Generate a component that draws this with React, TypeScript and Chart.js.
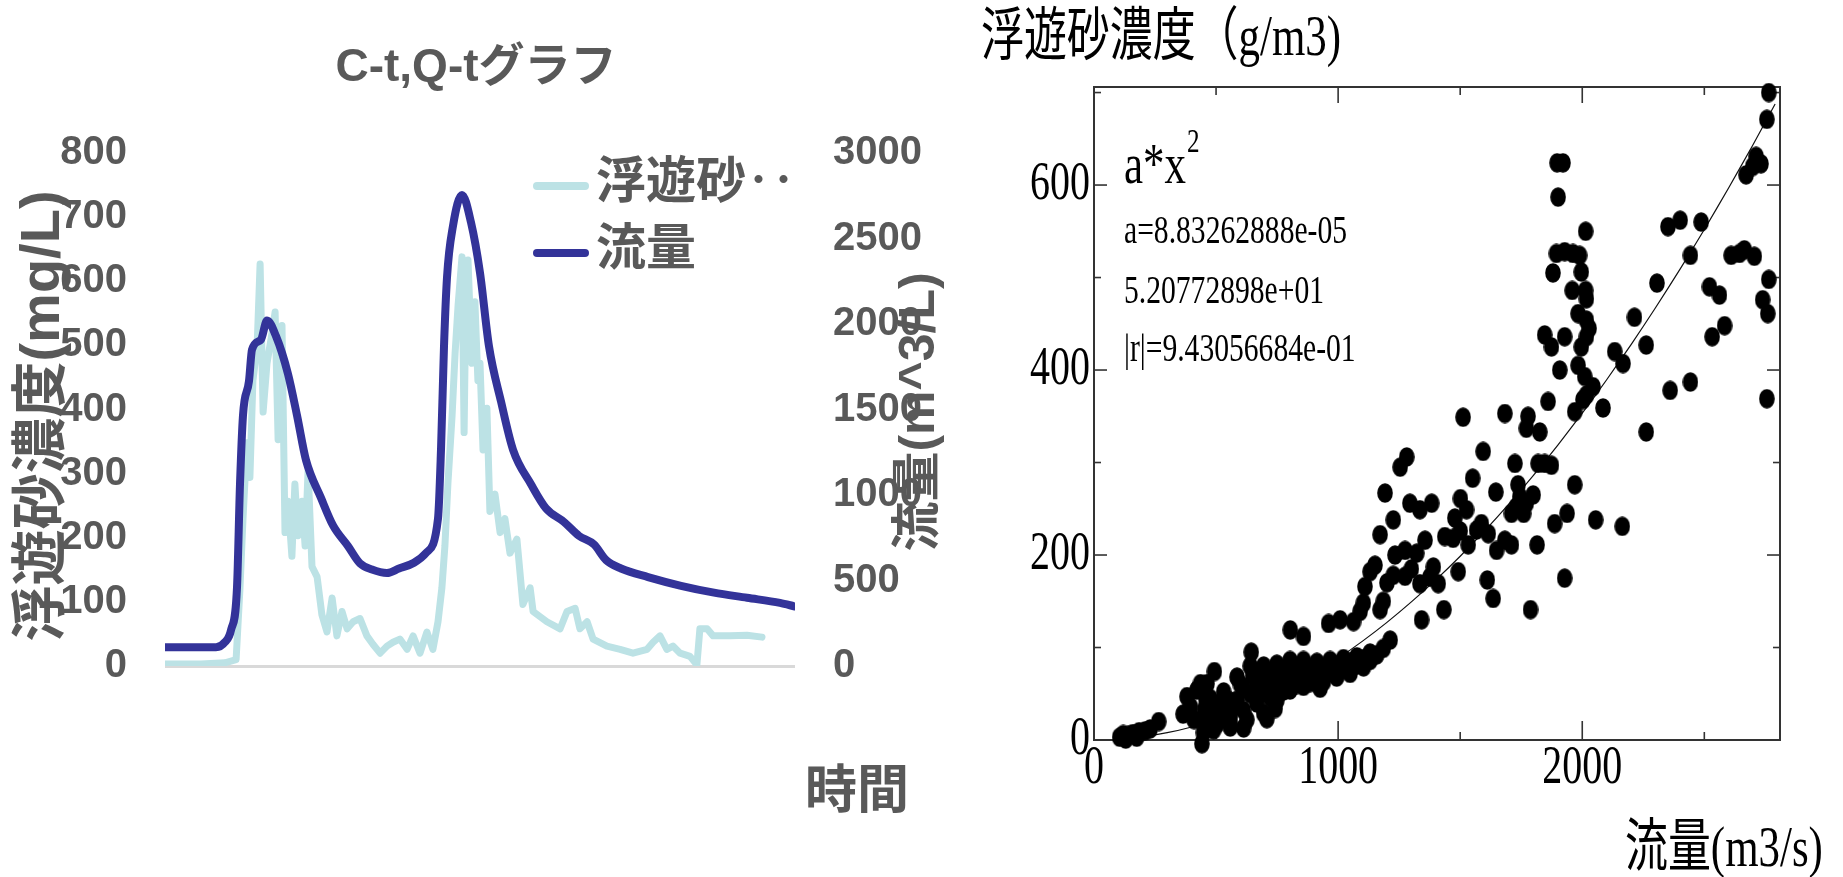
import React, { useEffect, useRef } from "react";
import { Chart, registerables } from "chart.js";

Chart.register(...registerables);

// ---------- text ----------
const LEFT_TITLE = "C-t,Q-tグラフ";
const LEFT_Y_TITLE = "浮遊砂濃度(mg/L)";
const LEFT_Y1_TITLE = "流量(m^3/L)";
const LEFT_X_TITLE = "時間";
const SSC_LABEL = "浮遊砂‥";
const FLOW_LABEL = "流量";

const RIGHT_TITLE = "浮遊砂濃度（g/m3)";
const RIGHT_X_TITLE = "流量(m3/s)";
const FIT_NAME = "a*x";
const FIT_POWER = "2";
const FIT_LINES = ["a=8.83262888e-05", "5.20772898e+01", "|r|=9.43056684e-01"];

// ---------- tick values ----------
const LEFT_Y_TICKS = [0, 100, 200, 300, 400, 500, 600, 700, 800];
const LEFT_Y1_TICKS = [0, 500, 1000, 1500, 2000, 2500, 3000];
const RIGHT_X_TICKS = [0, 1000, 2000];
const RIGHT_Y_TICKS = [0, 200, 400, 600];

// ---------- left chart data (time in hours) ----------
const Q_HOURS = [0, 17, 20, 22, 24, 25, 26, 28, 29, 32, 34, 37, 41, 44, 47, 52, 56, 61, 65, 69, 74, 78, 83, 87, 91, 92, 93, 94, 96, 99, 102, 105, 108, 112, 116, 122, 127, 133, 138, 143, 147, 152, 161, 172, 183, 194, 205, 210];
const Q_VALUES = [110, 110, 140, 210, 459, 1063, 1466, 1667, 1850, 1909, 2020, 1929, 1708, 1466, 1204, 983, 822, 701, 600, 564, 544, 570, 604, 661, 862, 1265, 1869, 2272, 2574, 2755, 2594, 2300, 1869, 1547, 1265, 1063, 922, 842, 761, 711, 620, 570, 520, 469, 429, 399, 369, 348];

const C_HOURS = [0, 12, 20, 23.7, 25, 26, 27.3, 28.3, 29.3, 30.7, 31.7, 32.7, 34, 35.7, 36.7, 37.7, 39, 40, 41, 42.3, 43.3, 44.3, 45.7, 46.7, 47.7, 49, 50.7, 52.3, 54, 55.7, 57.3, 59, 60.7, 62.7, 65, 67.3, 69.3, 71.7, 74, 76, 78.3, 80.7, 82.7, 85, 87.3, 89.3, 91, 92.3, 93.3, 94.3, 95.7, 96.7, 97.7, 99, 99.7, 100.3, 101, 102.3, 103.3, 104.3, 105, 106, 107.3, 108.3, 110, 111.7, 113.3, 115, 117.3, 119.3, 121.7, 122.7, 127.3, 131.7, 134, 136.7, 138.3, 140.7, 142.7, 147.3, 151.7, 156, 160.7, 162.7, 165, 167.3, 169.3, 171.7, 175, 177.3, 178.3, 180.7, 182.7, 188.3, 194, 199];
const C_VALUES = [3, 3, 5, 10, 122, 230, 348, 294, 445, 498, 627, 396, 472, 520, 552, 353, 531, 208, 257, 171, 284, 203, 257, 187, 305, 155, 139, 80, 53, 106, 47, 85, 58, 69, 74, 47, 34, 20, 31, 37, 42, 26, 47, 20, 53, 26, 69, 122, 187, 284, 391, 488, 563, 638, 364, 579, 633, 472, 568, 445, 472, 337, 402, 241, 268, 208, 230, 176, 198, 96, 122, 85, 69, 58, 85, 90, 58, 69, 42, 31, 26, 20, 26, 37, 47, 26, 31, 20, 15, 2, 58, 58, 47, 47, 48, 45];

// ---------- right chart data ----------
const SC_FLOW = [
  105, 120, 140, 160, 185, 210, 230, 130, 175, 265, 365, 442, 448, 450, 452, 458,
  476, 531, 586, 640, 695, 749, 803, 858, 913, 967, 1022, 1077, 1131, 1185,
  503, 558, 613, 667, 722, 776, 831, 885, 940, 994, 1049, 1104, 1158,
  476, 531, 586, 640, 695, 749, 803, 858, 913, 967, 1022, 1077, 1131,
  503, 558, 613, 667, 722, 776, 831, 885, 940, 994, 1049,
  490, 558, 626, 695, 749, 803, 858, 926, 994, 1049, 1104,
  381, 422, 436, 395, 463, 558, 613, 708, 742, 493, 644,
  520, 575, 600, 650, 700, 760, 820, 870, 1000, 1060, 1120, 410, 470, 540, 680, 730, 790,
  804, 858, 961, 1008, 1063, 1090, 1103, 1110, 1131, 1151, 1185, 1172, 1213, 1192, 1226, 1172, 1254, 1281, 1294, 1335, 1383, 1233, 1274, 1322, 1356, 1226, 1274, 1335, 1200, 1300, 1342,
  1594, 1724, 1819, 1846, 1874, 1551, 1646, 1737, 1744, 1730, 1771, 1799, 1760, 1710, 1969, 1501, 1478, 1526, 1587, 1567, 1615, 1437, 1471, 1500, 1533, 1649, 1683, 1710, 1815, 1887, 1938, 2055, 2164, 1376, 1390, 1410, 1492, 1611, 1635, 1433, 1788, 1928,
  2764, 2756, 2712, 2732, 2698, 2671, 1897, 1921, 1901, 2014, 2351, 2401, 2487, 1894, 1928, 1962, 1989, 2443, 2610, 2644, 2664, 2705, 1880, 1996, 1959, 2014, 2017, 2764, 2306, 2521, 2562, 2739, 2760, 1983, 2017, 2028, 2017, 1996, 2214, 1846, 1874, 1928, 2583, 2532, 2262, 2133, 2167, 1908, 1983, 2010, 2044, 2017, 2003, 2443, 2360, 2756, 1860, 1969, 2085, 1512, 1683, 1778, 1771, 1826, 2262,
];
const SC_SSC = [
  3, 6, 5, 7, 9, 10, 12, 1, 3, 20, 28, -4, 8, 20, 33, 45,
  45, 52, 68, 80, 80, 82, 86, 86, 84, 86, 88, 90, 94, 99,
  38, 42, 56, 63, 68, 72, 75, 77, 78, 81, 84, 88, 92,
  23, 32, 43, 50, 58, 61, 65, 68, 70, 74, 77, 81, 86,
  17, 25, 32, 40, 46, 53, 60, 62, 63, 70, 76,
  11, 18, 22, 29, 43, 54, 58, 56, 68, 72, 79,
  47, 54, 61, 36, 61, 14, 13, 23, 34, 74, 95,
  28, 36, 60, 70, 73, 76, 68, 72, 76, 82, 86, 22, 30, 36, 50, 57, 63,
  119, 112, 126, 130, 128, 139, 148, 166, 182, 189, 150, 141, 108, 267, 238, 222, 295, 306, 256, 249, 256, 200, 205, 202, 216, 178, 177, 169, 170, 185, 130,
  312, 299, 299, 299, 297, 283, 268, 276, 263, 252, 256, 265, 245, 245, 276, 261, 240, 249, 234, 227, 223, 220, 218, 226, 211, 205, 216, 211, 211, 234, 245, 238, 231, 176, 187, 169, 182, 173, 153, 141, 141, 175,
  700, 671, 631, 623, 620, 611, 624, 624, 587, 550, 555, 562, 560, 526, 528, 526, 524, 524, 524, 526, 530, 523, 505, 506, 486, 486, 477, 498, 494, 490, 481, 476, 461, 461, 454, 445, 436, 425, 457, 438, 425, 436, 448, 436, 427, 420, 407, 400, 405, 393, 382, 373, 368, 387, 378, 369, 366, 355, 359, 349, 353, 350, 337, 333, 333,
];
// fitted curve a*x^2 (values as drawn)
const FIT_FLOW = [100, 200, 300, 400, 500, 600, 700, 800, 900, 1000, 1100, 1200, 1300, 1400, 1500, 1600, 1700, 1800, 1900, 2000, 2100, 2200, 2300, 2400, 2500, 2600, 2700, 2790];
const FIT_SSC = [0.9, 3.5, 7.9, 14.1, 22.1, 31.8, 43.3, 56.5, 71.5, 88.3, 106.9, 127.2, 149.3, 173.1, 198.7, 226.1, 255.3, 286.2, 318.9, 353.3, 389.5, 427.5, 467.3, 508.8, 552.0, 597.1, 643.9, 687.6];

const SANS = '"Liberation Sans", Arial, "Noto Sans CJK JP", sans-serif';
const SERIF = '"Liberation Serif", "Times New Roman", "Noto Sans CJK JP", serif';
const GRAY = "#595959";
const CYAN = "#bce2e5";
const NAVY = "#333399";

function condenseText(ctx: any, sx: number) {
  if (ctx.__condensed) return;
  ctx.__condensed = true;
  const fill = ctx.fillText.bind(ctx);
  const measure = ctx.measureText.bind(ctx);
  ctx.fillText = (text: string, x: number, y: number, maxWidth?: number) => {
    const m = ctx.getTransform();
    const px = m.a * x + m.c * y + m.e;
    ctx.save();
    ctx.setTransform(new DOMMatrix([sx, 0, 0, 1, px * (1 - sx), 0]).multiply(m));
    if (maxWidth === undefined || maxWidth === null) fill(text, x, y);
    else fill(text, x, y, maxWidth / sx);
    ctx.restore();
  };
  ctx.measureText = (text: string) => {
    const r = measure(text);
    return {
      width: r.width * sx,
      actualBoundingBoxAscent: r.actualBoundingBoxAscent,
      actualBoundingBoxDescent: r.actualBoundingBoxDescent,
      actualBoundingBoxLeft: r.actualBoundingBoxLeft * sx,
      actualBoundingBoxRight: r.actualBoundingBoxRight * sx,
      fontBoundingBoxAscent: r.fontBoundingBoxAscent,
      fontBoundingBoxDescent: r.fontBoundingBoxDescent,
    };
  };
}

const fixedTicks = (values: number[]) => (s: any) => {
  s.ticks = values.map((value) => ({ value }));
};

const leftDecor = {
  id: "leftDecor",
  afterDraw(chart: any) {
    const ctx = chart.ctx;
    ctx.save();
    ctx.fillStyle = GRAY;
    ctx.textAlign = "center";
    ctx.textBaseline = "middle";
    ctx.font = `bold 46px ${SANS}`;
    ctx.fillText(LEFT_TITLE, 476, 68);

    ctx.save();
    ctx.translate(44, 416);
    ctx.rotate(-Math.PI / 2);
    ctx.font = `bold 56px ${SANS}`;
    ctx.fillText(LEFT_Y_TITLE, 0, 0);
    ctx.restore();

    ctx.save();
    ctx.translate(920, 412);
    ctx.rotate(-Math.PI / 2);
    ctx.font = `bold 50px ${SANS}`;
    ctx.fillText(LEFT_Y1_TITLE, 0, 0);
    ctx.restore();

    ctx.font = `bold 52px ${SANS}`;
    ctx.fillText(LEFT_X_TITLE, 857, 794);

    // legend
    const rows = [186, 253];
    ctx.textAlign = "left";
    ctx.font = `bold 50px ${SANS}`;
    chart.data.datasets.forEach((ds: any, i: number) => {
      const y = rows[i];
      ctx.strokeStyle = ds.borderColor;
      ctx.lineWidth = 8;
      ctx.lineCap = "round";
      ctx.beginPath();
      ctx.moveTo(537, y);
      ctx.lineTo(585, y);
      ctx.stroke();
      ctx.fillStyle = GRAY;
      ctx.fillText(ds.label, 596, y - 2);
    });
    ctx.restore();
  },
};

const rightDecor = {
  id: "rightDecor",
  beforeDatasetsDraw(chart: any) {
    const ctx = chart.ctx;
    const a = chart.chartArea;
    const xs = chart.scales.x;
    const ys = chart.scales.y;
    ctx.save();
    ctx.strokeStyle = "#333";
    ctx.lineWidth = 2;
    ctx.strokeRect(a.left, a.top, a.right - a.left, a.bottom - a.top);
    ctx.lineWidth = 1.6;
    const seg = (x1: number, y1: number, x2: number, y2: number) => {
      ctx.beginPath();
      ctx.moveTo(x1, y1);
      ctx.lineTo(x2, y2);
      ctx.stroke();
    };
    for (let v = 100; v < ys.max; v += 100) {
      const py = ys.getPixelForValue(v);
      const len = v % 200 === 0 ? 13 : 7;
      seg(a.left, py, a.left + len, py);
      seg(a.right, py, a.right - len, py);
    }
    for (let v = 500; v < xs.max; v += 500) {
      const px = xs.getPixelForValue(v);
      const major = v % 1000 === 0;
      seg(px, a.bottom, px, a.bottom - (major ? 19 : 8));
      seg(px, a.top, px, a.top + (major ? 16 : 8));
    }
    ctx.restore();
  },
  afterDraw(chart: any) {
    const ctx = chart.ctx;
    ctx.save();
    ctx.fillStyle = "#000";
    ctx.textAlign = "left";
    ctx.textBaseline = "middle";
    ctx.font = `58px ${SERIF}`;
    ctx.fillText(RIGHT_TITLE, 21, 40);

    ctx.textBaseline = "alphabetic";
    ctx.font = `58px ${SERIF}`;
    ctx.fillText(FIT_NAME, 164, 183);
    const w = ctx.measureText(FIT_NAME).width;
    ctx.font = `34px ${SERIF}`;
    ctx.fillText(FIT_POWER, 164 + w + 1, 152);
    ctx.font = `40px ${SERIF}`;
    const bases = [243, 303, 361];
    FIT_LINES.forEach((t, i) => ctx.fillText(t, 164, bases[i]));

    ctx.font = `58px ${SERIF}`;
    ctx.fillText(RIGHT_X_TITLE, 665, 866);
    ctx.restore();
  },
};

function makeDot(): HTMLCanvasElement {
  const c = document.createElement("canvas");
  c.width = 16;
  c.height = 20;
  const g = c.getContext("2d")!;
  g.fillStyle = "#000";
  g.beginPath();
  g.ellipse(8, 10, 7.8, 9.8, 0, 0, Math.PI * 2);
  g.fill();
  return c;
}

export default function App() {
  const leftRef = useRef<HTMLCanvasElement>(null);
  const rightRef = useRef<HTMLCanvasElement>(null);

  useEffect(() => {
    const lc = leftRef.current!;
    const rc = rightRef.current!;
    const rctx = rc.getContext("2d")!;
    condenseText(rctx, 0.74);

    const tickFontL = { family: SANS, size: 40, weight: "bold" as const };
    const left = new Chart(lc, {
      type: "line",
      data: {
        datasets: [
          {
            label: SSC_LABEL,
            data: C_HOURS.map((x, i) => ({ x, y: C_VALUES[i] })),
            yAxisID: "y",
            borderColor: CYAN,
            borderWidth: 7,
            pointRadius: 0,
            tension: 0,
            order: 2,
            borderJoinStyle: "round",
            borderCapStyle: "round",
          },
          {
            label: FLOW_LABEL,
            data: Q_HOURS.map((x, i) => ({ x, y: Q_VALUES[i] })),
            yAxisID: "y1",
            borderColor: NAVY,
            borderWidth: 8,
            pointRadius: 0,
            cubicInterpolationMode: "monotone",
            order: 1,
            borderJoinStyle: "round",
            borderCapStyle: "round",
          },
        ],
      },
      options: {
        animation: false,
        responsive: false,
        maintainAspectRatio: false,
        layout: { padding: { top: 153, bottom: 877 - 666, left: 0, right: 0 } },
        scales: {
          x: { type: "linear", min: 0, max: 210, display: false },
          y: {
            position: "left",
            min: 0,
            max: 800,
            afterBuildTicks: fixedTicks(LEFT_Y_TICKS),
            ticks: { color: GRAY, font: tickFontL, padding: 38, callback: (v: any) => String(v) },
            grid: {
              drawTicks: false,
              lineWidth: 3,
              color: (c: any) => (c.tick && c.tick.value === 0 ? "#d9d9d9" : "rgba(0,0,0,0)"),
            },
            border: { display: false },
            afterFit: (s: any) => {
              s.width = 165;
            },
          },
          y1: {
            position: "right",
            min: 0,
            max: 3000,
            afterBuildTicks: fixedTicks(LEFT_Y1_TICKS),
            ticks: { color: GRAY, font: tickFontL, padding: 38, callback: (v: any) => String(v) },
            grid: { display: false, drawTicks: false },
            border: { display: false },
            afterFit: (s: any) => {
              s.width = 960 - 795;
            },
          },
        },
        plugins: { legend: { display: false }, tooltip: { enabled: false }, title: { display: false } },
      },
      plugins: [leftDecor],
    } as any);

    const tickFontR = { family: SERIF, size: 54, weight: "normal" as const };
    const right = new Chart(rctx, {
      type: "scatter",
      data: {
        datasets: [
          {
            type: "scatter",
            label: "data",
            data: SC_FLOW.map((x, i) => ({ x, y: SC_SSC[i] })),
            pointStyle: makeDot(),
            pointRadius: 8,
            backgroundColor: "#000",
            borderWidth: 0,
            clip: false,
            order: 1,
          },
          {
            type: "line",
            label: "fit",
            data: FIT_FLOW.map((x, i) => ({ x, y: FIT_SSC[i] })),
            borderColor: "#111",
            borderWidth: 1.2,
            pointRadius: 0,
            tension: 0.2,
            order: 2,
          },
        ],
      },
      options: {
        animation: false,
        responsive: false,
        maintainAspectRatio: false,
        layout: { padding: { top: 87, bottom: 77, left: 0, right: 63 } },
        scales: {
          x: {
            type: "linear",
            min: 0,
            max: 2810,
            afterBuildTicks: fixedTicks(RIGHT_X_TICKS),
            ticks: { autoSkip: false, maxRotation: 0, color: "#000", font: tickFontR, padding: -4, callback: (v: any) => String(v) },
            grid: { display: false, drawTicks: false },
            border: { display: false },
            afterFit: (s: any) => {
              s.height = 60;
            },
          },
          y: {
            type: "linear",
            min: 0,
            max: 706,
            afterBuildTicks: fixedTicks(RIGHT_Y_TICKS),
            ticks: { autoSkip: false, color: "#000", font: tickFontR, padding: 4, callback: (v: any) => String(v) },
            grid: { display: false, drawTicks: false },
            border: { display: false },
            afterFit: (s: any) => {
              s.width = 134;
            },
          },
        },
        plugins: { legend: { display: false }, tooltip: { enabled: false }, title: { display: false } },
      },
      plugins: [rightDecor],
    } as any);

    return () => {
      left.destroy();
      right.destroy();
    };
  }, []);

  return (
    <div style={{ position: "absolute", left: 0, top: 0, width: 1843, height: 877, background: "#fff", overflow: "hidden" }}>
      <canvas ref={leftRef} width={960} height={877} style={{ position: "absolute", left: 0, top: 0, width: 960, height: 877 }} />
      <canvas ref={rightRef} width={883} height={877} style={{ position: "absolute", left: 960, top: 0, width: 883, height: 877 }} />
    </div>
  );
}
